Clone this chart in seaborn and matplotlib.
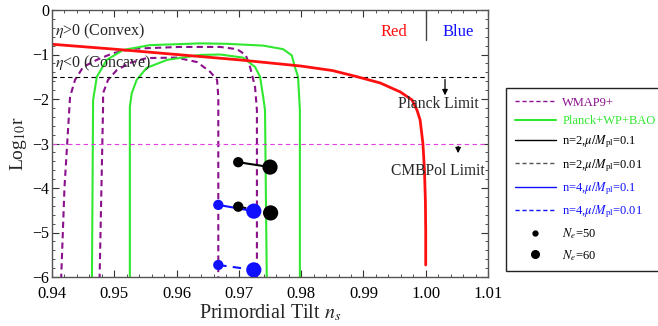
import numpy as np
import pandas as pd
import matplotlib
matplotlib.use("Agg")
import matplotlib.pyplot as plt
from matplotlib.lines import Line2D
from matplotlib.ticker import MultipleLocator
import seaborn as sns

# ---------------- data ----------------
# red curve (model prediction)
red_ns = [0.940, 0.950, 0.960, 0.970, 0.975, 0.980, 0.985, 0.989, 0.9927, 0.9959,
          0.9978, 0.9986, 0.9991, 0.99955, 0.9998, 0.99995, 1.0000, 1.0000]
red_r = [-0.77, -0.88, -1.00, -1.12, -1.19, -1.26, -1.36, -1.50, -1.64, -1.84,
         -2.02, -2.25, -2.47, -3.00, -3.60, -4.30, -5.00, -5.73]

# WMAP9+ contours (95% outer, 68% inner)
wmap95_ns = [0.9414, 0.9420, 0.9429, 0.9437, 0.9450, 0.9472, 0.9498, 0.9530, 0.9605,
             0.9670, 0.9697, 0.9711, 0.9718, 0.9726, 0.9729, 0.9729]
wmap95_r = [-6.3, -4.0, -1.95, -1.57, -1.28, -1.12, -0.97, -0.87, -0.83,
            -0.83, -0.88, -1.01, -1.28, -1.73, -2.25, -6.3]
wmap68_ns = [0.9476, 0.9482, 0.9482, 0.9490, 0.9504, 0.9525, 0.9552, 0.9600, 0.9633,
             0.9654, 0.9665, 0.9667, 0.9667]
wmap68_r = [-6.3, -2.18, -1.87, -1.57, -1.35, -1.19, -1.08, -1.07, -1.17,
            -1.39, -1.57, -1.95, -6.3]

# Planck+WP+BAO contours
planck95_ns = [0.9464, 0.9466, 0.9472, 0.9488, 0.9514, 0.9557, 0.9638, 0.9681, 0.9739,
               0.9771, 0.9785, 0.9790, 0.9795, 0.9798, 0.9798]
planck95_r = [-6.3, -2.02, -1.50, -1.12, -0.90, -0.79, -0.75, -0.76, -0.80,
              -0.88, -1.02, -1.28, -1.50, -2.25, -6.3]
planck68_ns = [0.9525, 0.9525, 0.9528, 0.9536, 0.9552, 0.9585, 0.9638, 0.9670, 0.9707,
               0.9726, 0.9734, 0.9739, 0.9742, 0.9745]
planck68_r = [-6.3, -2.18, -1.87, -1.57, -1.30, -1.12, -1.01, -1.00, -1.07,
              -1.28, -1.50, -1.95, -2.25, -6.3]

# model points: N_e = 50 and N_e = 60
models = ["n=2,$\\mu/M_{\\rm pl}$=0.1", "n=2,$\\mu/M_{\\rm pl}$=0.01",
          "n=4,$\\mu/M_{\\rm pl}$=0.1", "n=4,$\\mu/M_{\\rm pl}$=0.01"]
ns50 = [0.9699, 0.9699, 0.9667, 0.9667]
r50 = [-3.42, -4.42, -4.38, -5.73]
ns60 = [0.9750, 0.9751, 0.9724, 0.9724]
r60 = [-3.53, -4.56, -4.52, -5.84]

planck_limit = -1.5
cmbpol_limit = -3.0

# ---------------- style ----------------
sns.set_style("ticks")
plt.rcParams["font.family"] = ["Liberation Serif", "DejaVu Serif"]
plt.rcParams["mathtext.fontset"] = "stix"

PURPLE = "#8B108B"
GREEN = "#30E830"
RED = "#FF1010"
BLUE = "#1010FF"
MAGENTA = "#E040E0"

fig = plt.figure(figsize=(6.58, 3.26), dpi=100)
ax = fig.add_axes([52 / 658, 1 - 277 / 326, (488 - 52) / 658, (277 - 10) / 326])

def line(x, y, **kw):
    sns.lineplot(x=x, y=y, sort=False, estimator=None, ax=ax, legend=False, **kw)

# contours
line(wmap95_ns, wmap95_r, color=PURPLE, lw=1.5, dashes=(3, 2))
line(wmap68_ns, wmap68_r, color=PURPLE, lw=1.5, dashes=(3, 2))
line(planck95_ns, planck95_r, color=GREEN, lw=1.5)
line(planck68_ns, planck68_r, color=GREEN, lw=1.5)

# limits
ax.axhline(planck_limit, color="black", lw=0.8, dashes=(4, 3))
ax.axhline(cmbpol_limit, color=MAGENTA, lw=0.8, dashes=(4, 3))

# red curve
line(red_ns, red_r, color=RED, lw=2.0)

# model points
mcolors = ["black", "black", BLUE, BLUE]
mdash = ["", (4, 3), "", (4, 3)]
for i in range(4):
    d = pd.DataFrame({"ns": [ns50[i], ns60[i]], "r": [r50[i], r60[i]]})
    if mdash[i]:
        sns.lineplot(data=d, x="ns", y="r", sort=False, estimator=None, ax=ax,
                     color=mcolors[i], lw=1.5, dashes=mdash[i], legend=False)
    else:
        sns.lineplot(data=d, x="ns", y="r", sort=False, estimator=None, ax=ax,
                     color=mcolors[i], lw=1.5, legend=False)
    sns.scatterplot(x=[ns50[i]], y=[r50[i]], color=mcolors[i], s=55, ax=ax,
                    edgecolor="none", zorder=5, legend=False)
    sns.scatterplot(x=[ns60[i]], y=[r60[i]], color=mcolors[i], s=120, ax=ax,
                    edgecolor="none", zorder=5, legend=False)

# Red | Blue divider
ax.plot([1.0, 1.0], [0, -0.67], color="#444444", lw=1.0)
ax.text(0.9949, -0.5, "Red", color=RED, ha="center", va="center", fontsize=12)
ax.text(1.0052, -0.5, "Blue", color=BLUE, ha="center", va="center", fontsize=12)

ax.text(0.9405, -0.49, "$\\eta$>0 (Convex)", ha="left", va="center", fontsize=11.5)
ax.text(0.9405, -1.19, "$\\eta$<0 (Concave)", ha="left", va="center", fontsize=11.5)

ax.text(1.0085, -2.11, "Planck Limit", ha="right", va="center", fontsize=11.2)
ax.annotate("", xy=(1.0031, -1.98), xytext=(1.0031, -1.5),
            arrowprops=dict(arrowstyle="-|>", color="black", lw=0.9, mutation_scale=8))
ax.text(1.0095, -3.62, "CMBPol Limit", ha="right", va="center", fontsize=11.2)
ax.annotate("", xy=(1.0052, -3.28), xytext=(1.0052, -3.0),
            arrowprops=dict(arrowstyle="-|>", color="black", lw=0.9, mutation_scale=8))

# axes
ax.set_xlim(0.94, 1.01)
ax.set_ylim(-6, 0)
ax.xaxis.set_major_locator(MultipleLocator(0.01))
ax.xaxis.set_minor_locator(MultipleLocator(0.002))
ax.yaxis.set_major_locator(MultipleLocator(1))
ax.yaxis.set_minor_locator(MultipleLocator(0.2))
ax.set_xticklabels([f"{v:.2f}" for v in ax.get_xticks()])
ax.tick_params(which="both", direction="in", top=True, right=True, labelsize=12,
               colors="#333333", labelcolor="black")
ax.tick_params(axis="y", which="major", labelsize=11.5, pad=2)
ax.tick_params(axis="x", which="major", pad=6.5)
ax.tick_params(which="major", length=5, width=0.8)
ax.tick_params(which="minor", length=2.5, width=0.6)
for s in ax.spines.values():
    s.set_color("#555555")
    s.set_linewidth(1.0)
ax.set_xlabel("Primordial Tilt $n_s$", fontsize=14.5, labelpad=0.5)
ax.set_ylabel("Log$_{10}$r", fontsize=14, labelpad=2)

# legend
handles = [
    Line2D([], [], color=PURPLE, lw=1.0, dashes=(3, 2)),
    Line2D([], [], color=GREEN, lw=1.5),
    Line2D([], [], color="black", lw=1.0),
    Line2D([], [], color="#555555", lw=1.0, dashes=(3, 2)),
    Line2D([], [], color=BLUE, lw=1.0),
    Line2D([], [], color=BLUE, lw=1.0, dashes=(3, 2)),
    Line2D([], [], color="black", marker="o", ms=3.5, lw=0),
    Line2D([], [], color="black", marker="o", ms=5.5, lw=0),
]
labels = ["WMAP9+", "Planck+WP+BAO"] + models + ["$N_e$=50", "$N_e$=60"]
leg = ax.legend(handles, labels, loc="upper left", bbox_to_anchor=(506 / 658, 1 - 88 / 326),
                bbox_transform=fig.transFigure, borderaxespad=0, fontsize=9,
                frameon=True, fancybox=False, edgecolor="#222222", framealpha=1,
                handlelength=3.3, handletextpad=0.5, labelspacing=0.52, borderpad=0.7,
                markerfirst=True)
leg.get_frame().set_linewidth(1.0)
tcolors = [PURPLE, GREEN, "black", "black", BLUE, BLUE, "black", "black"]
for t, c in zip(leg.get_texts(), tcolors):
    t.set_color(c)

fig.savefig("out.png", dpi=100)
